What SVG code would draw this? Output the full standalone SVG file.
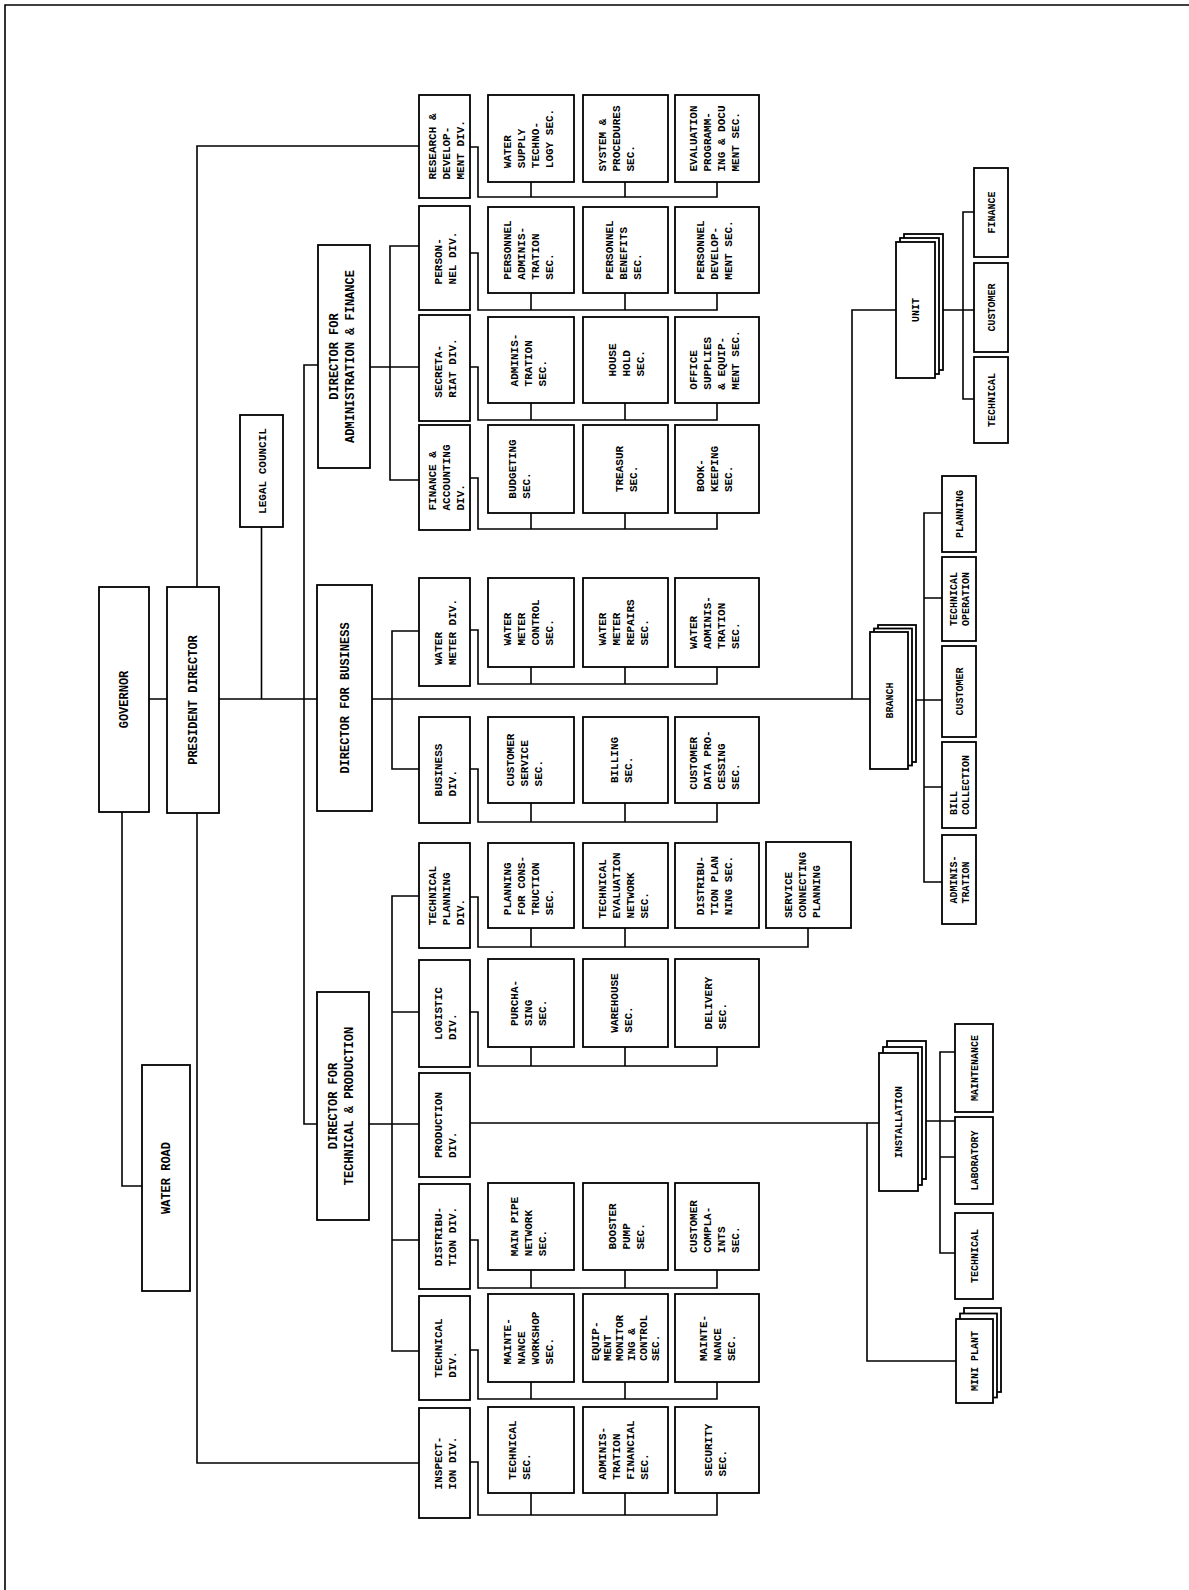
<svg xmlns="http://www.w3.org/2000/svg" width="1189" height="1590" viewBox="0 0 1189 1590">
<style>
.b{fill:#fff;stroke:#000;stroke-width:1.8}
.c{fill:none;stroke:#000;stroke-width:1.6}
.t{font-family:"Liberation Mono","DejaVu Sans Mono",monospace;font-weight:bold;font-size:11px;fill:#000}
.d{font-size:12px}
.s{font-size:10px}
.m{text-anchor:middle}
</style>
<rect x="0" y="0" width="1189" height="1590" fill="#fff"/>
<path class="c" d="M5,1590 V5 H1189" stroke-width="2.2"/>
<g id="connectors">
<path class="c" d="M149,699 H167 M219,699 H317 M372,699 H870"/>
<path class="c" d="M197,587 V146 H419 M197,813 V1463 H419 M122,812 V1186 H142 M261.5,527 V699"/>
<path class="c" d="M318,365 H304 V1124 H317"/>
<path class="c" d="M419,246 H390 V480 H419 M370,367 H419"/>
<path class="c" d="M419,631 H392 V769 H419"/>
<path class="c" d="M419,896 H392 V1351 H419 M369,1124 H419 M392,1012 H419 M392,1240 H419"/>
<path class="c" d="M470,147 H478 V197 H717 V182 M531,182 V197 M625,182 V197"/>
<path class="c" d="M470,253 H478 V310 H717 V293 M531,293 V310 M625,293 V310"/>
<path class="c" d="M470,367 H478 V420 H717 V403 M531,403 V420 M625,403 V420"/>
<path class="c" d="M470,478 H478 V529 H717 V513 M531,513 V529 M625,513 V529"/>
<path class="c" d="M470,630 H478 V684 H717 V667 M531,667 V684 M625,667 V684"/>
<path class="c" d="M470,769 H478 V822 H717 V803 M531,803 V822 M625,803 V822"/>
<path class="c" d="M470,897 H478 V947 H808 V928 M531,928 V947 M625,928 V947"/>
<path class="c" d="M470,1012 H478 V1066 H717 V1047 M531,1047 V1066 M625,1047 V1066"/>
<path class="c" d="M470,1240 H478 V1288 H717 V1270 M531,1270 V1288 M625,1270 V1288"/>
<path class="c" d="M470,1350 H478 V1399 H717 V1382 M531,1382 V1399 M625,1382 V1399"/>
<path class="c" d="M470,1462 H478 V1515 H717 V1493 M531,1493 V1515 M625,1493 V1515"/>
<path class="c" d="M470,1123 H879 M867,1123 V1361 H956"/>
<path class="c" d="M918,1121 H955 M955,1052 H940 V1253 H955 M940,1157 H955"/>
<path class="c" d="M908,700 H942 M942,513 H924 V882 H942 M924,598 H942 M924,787 H942"/>
<path class="c" d="M852,699 V310 H896 M935,310 H974 M974,212 H963 V399 H974"/>
</g>
<g id="governor"><rect class="b" x="99" y="587" width="50" height="225"/><text class="t d m" transform="translate(124 699.5) rotate(-90)" x="0" y="4">GOVERNOR</text></g>
<g id="president"><rect class="b" x="167" y="587" width="52" height="226"/><text class="t d m" transform="translate(193 700) rotate(-90)" x="0" y="4">PRESIDENT DIRECTOR</text></g>
<g id="water-board"><rect class="b" x="142" y="1065" width="48" height="226"/><text class="t d m" transform="translate(166 1178) rotate(-90)" x="0" y="4">WATER ROAD</text></g>
<g id="legal"><rect class="b" x="240" y="415" width="43" height="112"/><text class="t m" transform="translate(261.5 471) rotate(-90)" x="0" y="4">LEGAL COUNCIL</text></g>
<g id="dir-admin"><rect class="b" x="318" y="245" width="52" height="223"/><text class="t d m" transform="translate(344 356.5) rotate(-90)"><tspan x="0" y="-6">DIRECTOR FOR</tspan><tspan x="0" y="10">ADMINISTRATION &amp; FINANCE</tspan></text></g>
<g id="dir-business"><rect class="b" x="317" y="585" width="55" height="226"/><text class="t d m" transform="translate(344.5 698) rotate(-90)" x="0" y="4">DIRECTOR FOR BUSINESS</text></g>
<g id="dir-tech"><rect class="b" x="317" y="992" width="52" height="228"/><text class="t d m" transform="translate(343 1106) rotate(-90)"><tspan x="0" y="-6">DIRECTOR FOR</tspan><tspan x="0" y="10">TECHNICAL &amp; PRODUCTION</tspan></text></g>

<g id="div-rd"><rect class="b" x="419" y="95" width="51" height="103"/><text class="t" transform="translate(444.5 146.5) rotate(-90)"><tspan x="-33" y="-9">RESEARCH &amp;</tspan><tspan x="-33" y="5">DEVELOP-</tspan><tspan x="-33" y="19">MENT DIV.</tspan></text></g>
<g id="div-personnel"><rect class="b" x="419" y="206" width="51" height="104"/><text class="t" transform="translate(444.5 258) rotate(-90)"><tspan x="-26.4" y="-3">PERSON-</tspan><tspan x="-26.4" y="11">NEL DIV.</tspan></text></g>
<g id="div-secretariat"><rect class="b" x="419" y="315" width="51" height="106"/><text class="t" transform="translate(444.5 368) rotate(-90)"><tspan x="-29.7" y="-3">SECRETA-</tspan><tspan x="-29.7" y="11">RIAT DIV.</tspan></text></g>
<g id="div-finance"><rect class="b" x="419" y="425" width="51" height="105"/><text class="t" transform="translate(444.5 477.5) rotate(-90)"><tspan x="-33" y="-9">FINANCE &amp;</tspan><tspan x="-33" y="5">ACCOUNTING</tspan><tspan x="-33" y="19">DIV.</tspan></text></g>
<g id="div-watermeter"><rect class="b" x="419" y="578" width="51" height="108"/><text class="t" transform="translate(444.5 632) rotate(-90)"><tspan x="-33" y="-3">WATER</tspan><tspan x="-33" y="11">METER DIV.</tspan></text></g>
<g id="div-business"><rect class="b" x="419" y="717" width="51" height="106"/><text class="t" transform="translate(444.5 770) rotate(-90)"><tspan x="-26.4" y="-3">BUSINESS</tspan><tspan x="-26.4" y="11">DIV.</tspan></text></g>
<g id="div-techplanning"><rect class="b" x="419" y="843" width="51" height="105"/><text class="t" transform="translate(444.5 895.5) rotate(-90)"><tspan x="-29.7" y="-9">TECHNICAL</tspan><tspan x="-29.7" y="5">PLANNING</tspan><tspan x="-29.7" y="19">DIV.</tspan></text></g>
<g id="div-logistic"><rect class="b" x="419" y="960" width="51" height="107"/><text class="t" transform="translate(444.5 1013.5) rotate(-90)"><tspan x="-26.4" y="-3">LOGISTIC</tspan><tspan x="-26.4" y="11">DIV.</tspan></text></g>
<g id="div-production"><rect class="b" x="419" y="1073" width="51" height="104"/><text class="t" transform="translate(444.5 1125) rotate(-90)"><tspan x="-33" y="-3">PRODUCTION</tspan><tspan x="-33" y="11">DIV.</tspan></text></g>
<g id="div-distribution"><rect class="b" x="419" y="1184" width="51" height="105"/><text class="t" transform="translate(444.5 1236.5) rotate(-90)"><tspan x="-29.7" y="-3">DISTRIBU-</tspan><tspan x="-29.7" y="11">TION DIV.</tspan></text></g>
<g id="div-technical"><rect class="b" x="419" y="1296" width="51" height="104"/><text class="t" transform="translate(444.5 1348) rotate(-90)"><tspan x="-29.7" y="-3">TECHNICAL</tspan><tspan x="-29.7" y="11">DIV.</tspan></text></g>
<g id="div-inspection"><rect class="b" x="419" y="1408" width="51" height="110"/><text class="t" transform="translate(444.5 1463) rotate(-90)"><tspan x="-26.4" y="-3">INSPECT-</tspan><tspan x="-26.4" y="11">ION DIV.</tspan></text></g>

<g id="sec-water-supply"><rect class="b" x="488" y="95" width="86" height="87"/><text class="t" transform="translate(531 138.5) rotate(-90)"><tspan x="-29.7" y="-20">WATER</tspan><tspan x="-29.7" y="-6">SUPPLY</tspan><tspan x="-29.7" y="8">TECHNO-</tspan><tspan x="-29.7" y="22">LOGY SEC.</tspan></text></g>
<g id="sec-system"><rect class="b" x="583" y="95" width="85" height="87"/><text class="t" transform="translate(625.5 138.5) rotate(-90)"><tspan x="-33" y="-20">SYSTEM &amp;</tspan><tspan x="-33" y="-6">PROCEDURES</tspan><tspan x="-33" y="8">SEC.</tspan></text></g>
<g id="sec-evaluation"><rect class="b" x="675" y="95" width="84" height="87"/><text class="t" transform="translate(717 138.5) rotate(-90)"><tspan x="-33" y="-20">EVALUATION</tspan><tspan x="-33" y="-6">PROGRAMM-</tspan><tspan x="-33" y="8">ING &amp; DOCU</tspan><tspan x="-33" y="22">MENT SEC.</tspan></text></g>

<g id="sec-pers-admin"><rect class="b" x="488" y="207" width="86" height="86"/><text class="t" transform="translate(531 250) rotate(-90)"><tspan x="-29.7" y="-20">PERSONNEL</tspan><tspan x="-29.7" y="-6">ADMINIS-</tspan><tspan x="-29.7" y="8">TRATION</tspan><tspan x="-29.7" y="22">SEC.</tspan></text></g>
<g id="sec-pers-benefits"><rect class="b" x="583" y="207" width="85" height="86"/><text class="t" transform="translate(625.5 250) rotate(-90)"><tspan x="-29.7" y="-13">PERSONNEL</tspan><tspan x="-29.7" y="1">BENEFITS</tspan><tspan x="-29.7" y="15">SEC.</tspan></text></g>
<g id="sec-pers-dev"><rect class="b" x="675" y="207" width="84" height="86"/><text class="t" transform="translate(717 250) rotate(-90)"><tspan x="-29.7" y="-13">PERSONNEL</tspan><tspan x="-29.7" y="1">DEVELOP-</tspan><tspan x="-29.7" y="15">MENT SEC.</tspan></text></g>

<g id="sec-admin"><rect class="b" x="488" y="317" width="86" height="86"/><text class="t" transform="translate(531 360) rotate(-90)"><tspan x="-26.4" y="-13">ADMINIS-</tspan><tspan x="-26.4" y="1">TRATION</tspan><tspan x="-26.4" y="15">SEC.</tspan></text></g>
<g id="sec-household"><rect class="b" x="583" y="317" width="85" height="86"/><text class="t" transform="translate(625.5 360) rotate(-90)"><tspan x="-16.5" y="-10">HOUSE</tspan><tspan x="-16.5" y="4">HOLD</tspan><tspan x="-16.5" y="18">SEC.</tspan></text></g>
<g id="sec-office"><rect class="b" x="675" y="317" width="84" height="86"/><text class="t" transform="translate(717 360) rotate(-90)"><tspan x="-29.7" y="-20">OFFICE</tspan><tspan x="-29.7" y="-6">SUPPLIES</tspan><tspan x="-29.7" y="8">&amp; EQUIP-</tspan><tspan x="-29.7" y="22">MENT SEC.</tspan></text></g>

<g id="sec-budgeting"><rect class="b" x="488" y="425" width="86" height="88"/><text class="t" transform="translate(531 469) rotate(-90)"><tspan x="-29.7" y="-15">BUDGETING</tspan><tspan x="-29.7" y="-1">SEC.</tspan></text></g>
<g id="sec-treasury"><rect class="b" x="583" y="425" width="85" height="88"/><text class="t" transform="translate(625.5 469) rotate(-90)"><tspan x="-23.1" y="-3">TREASUR</tspan><tspan x="-23.1" y="11">SEC.</tspan></text></g>
<g id="sec-bookkeeping"><rect class="b" x="675" y="425" width="84" height="88"/><text class="t" transform="translate(717 469) rotate(-90)"><tspan x="-23.1" y="-13">BOOK-</tspan><tspan x="-23.1" y="1">KEEPING</tspan><tspan x="-23.1" y="15">SEC.</tspan></text></g>

<g id="sec-wm-control"><rect class="b" x="488" y="578" width="86" height="89"/><text class="t" transform="translate(531 622.5) rotate(-90)"><tspan x="-23.1" y="-20">WATER</tspan><tspan x="-23.1" y="-6">METER</tspan><tspan x="-23.1" y="8">CONTROL</tspan><tspan x="-23.1" y="22">SEC.</tspan></text></g>
<g id="sec-wm-repairs"><rect class="b" x="583" y="578" width="85" height="89"/><text class="t" transform="translate(625.5 622.5) rotate(-90)"><tspan x="-23.1" y="-20">WATER</tspan><tspan x="-23.1" y="-6">METER</tspan><tspan x="-23.1" y="8">REPAIRS</tspan><tspan x="-23.1" y="22">SEC.</tspan></text></g>
<g id="sec-wm-admin"><rect class="b" x="675" y="578" width="84" height="89"/><text class="t" transform="translate(717 622.5) rotate(-90)"><tspan x="-26.4" y="-20">WATER</tspan><tspan x="-26.4" y="-6">ADMINIS-</tspan><tspan x="-26.4" y="8">TRATION</tspan><tspan x="-26.4" y="22">SEC.</tspan></text></g>

<g id="sec-cust-service"><rect class="b" x="488" y="717" width="86" height="86"/><text class="t" transform="translate(531 760) rotate(-90)"><tspan x="-26.4" y="-17">CUSTOMER</tspan><tspan x="-26.4" y="-3">SERVICE</tspan><tspan x="-26.4" y="11">SEC.</tspan></text></g>
<g id="sec-billing"><rect class="b" x="583" y="717" width="85" height="86"/><text class="t" transform="translate(625.5 760) rotate(-90)"><tspan x="-23.1" y="-8">BILLING</tspan><tspan x="-23.1" y="6">SEC.</tspan></text></g>
<g id="sec-cust-data"><rect class="b" x="675" y="717" width="84" height="86"/><text class="t" transform="translate(717 760) rotate(-90)"><tspan x="-29.7" y="-20">CUSTOMER</tspan><tspan x="-29.7" y="-6">DATA PRO-</tspan><tspan x="-29.7" y="8">CESSING</tspan><tspan x="-29.7" y="22">SEC.</tspan></text></g>

<g id="sec-planning-cons"><rect class="b" x="488" y="843" width="86" height="85"/><text class="t" transform="translate(531 885.5) rotate(-90)"><tspan x="-29.7" y="-20">PLANNING</tspan><tspan x="-29.7" y="-6">FOR CONS-</tspan><tspan x="-29.7" y="8">TRUCTION</tspan><tspan x="-29.7" y="22">SEC.</tspan></text></g>
<g id="sec-tech-eval"><rect class="b" x="583" y="843" width="85" height="85"/><text class="t" transform="translate(625.5 885.5) rotate(-90)"><tspan x="-33" y="-20">TECHNICAL</tspan><tspan x="-33" y="-6">EVALUATION</tspan><tspan x="-33" y="8">NETWORK</tspan><tspan x="-33" y="22">SEC.</tspan></text></g>
<g id="sec-dist-planning"><rect class="b" x="675" y="843" width="84" height="85"/><text class="t" transform="translate(717 885.5) rotate(-90)"><tspan x="-29.7" y="-13">DISTRIBU-</tspan><tspan x="-29.7" y="1">TION PLAN</tspan><tspan x="-29.7" y="15">NING SEC.</tspan></text></g>
<g id="sec-service-conn"><rect class="b" x="766" y="842" width="85" height="86"/><text class="t" transform="translate(808.5 885) rotate(-90)"><tspan x="-33" y="-17">SERVICE</tspan><tspan x="-33" y="-3">CONNECTING</tspan><tspan x="-33" y="11">PLANNING</tspan></text></g>

<g id="sec-purchasing"><rect class="b" x="488" y="959" width="86" height="88"/><text class="t" transform="translate(531 1003) rotate(-90)"><tspan x="-23.1" y="-13">PURCHA-</tspan><tspan x="-23.1" y="1">SING</tspan><tspan x="-23.1" y="15">SEC.</tspan></text></g>
<g id="sec-warehouse"><rect class="b" x="583" y="959" width="85" height="88"/><text class="t" transform="translate(625.5 1003) rotate(-90)"><tspan x="-29.7" y="-8">WAREHOUSE</tspan><tspan x="-29.7" y="6">SEC.</tspan></text></g>
<g id="sec-delivery"><rect class="b" x="675" y="959" width="84" height="88"/><text class="t" transform="translate(717 1003) rotate(-90)"><tspan x="-26.4" y="-5">DELIVERY</tspan><tspan x="-26.4" y="9">SEC.</tspan></text></g>

<g id="sec-main-pipe"><rect class="b" x="488" y="1183" width="86" height="87"/><text class="t" transform="translate(531 1226.5) rotate(-90)"><tspan x="-29.7" y="-13">MAIN PIPE</tspan><tspan x="-29.7" y="1">NETWORK</tspan><tspan x="-29.7" y="15">SEC.</tspan></text></g>
<g id="sec-booster"><rect class="b" x="583" y="1183" width="85" height="87"/><text class="t" transform="translate(625.5 1226.5) rotate(-90)"><tspan x="-23.1" y="-10">BOOSTER</tspan><tspan x="-23.1" y="4">PUMP</tspan><tspan x="-23.1" y="18">SEC.</tspan></text></g>
<g id="sec-complaints"><rect class="b" x="675" y="1183" width="84" height="87"/><text class="t" transform="translate(717 1226.5) rotate(-90)"><tspan x="-26.4" y="-20">CUSTOMER</tspan><tspan x="-26.4" y="-6">COMPLA-</tspan><tspan x="-26.4" y="8">INTS</tspan><tspan x="-26.4" y="22">SEC.</tspan></text></g>

<g id="sec-workshop"><rect class="b" x="488" y="1294" width="86" height="88"/><text class="t" transform="translate(531 1338) rotate(-90)"><tspan x="-26.4" y="-20">MAINTE-</tspan><tspan x="-26.4" y="-6">NANCE</tspan><tspan x="-26.4" y="8">WORKSHOP</tspan><tspan x="-26.4" y="22">SEC.</tspan></text></g>
<g id="sec-monitoring"><rect class="b" x="583" y="1294" width="85" height="88"/><text class="t" transform="translate(625.5 1338) rotate(-90)"><tspan x="-23.1" y="-27">EQUIP-</tspan><tspan x="-23.1" y="-15">MENT</tspan><tspan x="-23.1" y="-3">MONITOR</tspan><tspan x="-23.1" y="9">ING &amp;</tspan><tspan x="-23.1" y="21">CONTROL</tspan><tspan x="-23.1" y="33">SEC.</tspan></text></g>
<g id="sec-maintenance"><rect class="b" x="675" y="1294" width="84" height="88"/><text class="t" transform="translate(717 1338) rotate(-90)"><tspan x="-23.1" y="-10">MAINTE-</tspan><tspan x="-23.1" y="4">NANCE</tspan><tspan x="-23.1" y="18">SEC.</tspan></text></g>

<g id="sec-insp-tech"><rect class="b" x="488" y="1407" width="86" height="86"/><text class="t" transform="translate(531 1450) rotate(-90)"><tspan x="-29.7" y="-15">TECHNICAL</tspan><tspan x="-29.7" y="-1">SEC.</tspan></text></g>
<g id="sec-insp-admin"><rect class="b" x="583" y="1407" width="85" height="86"/><text class="t" transform="translate(625.5 1450) rotate(-90)"><tspan x="-29.7" y="-20">ADMINIS-</tspan><tspan x="-29.7" y="-6">TRATION</tspan><tspan x="-29.7" y="8">FINANCIAL</tspan><tspan x="-29.7" y="22">SEC.</tspan></text></g>
<g id="sec-security"><rect class="b" x="675" y="1407" width="84" height="86"/><text class="t" transform="translate(717 1450) rotate(-90)"><tspan x="-26.4" y="-5">SECURITY</tspan><tspan x="-26.4" y="9">SEC.</tspan></text></g>

<g id="branch"><rect class="b" x="878" y="625" width="38" height="137"/><rect class="b" x="874" y="628.5" width="38" height="137"/><rect class="b" x="870" y="632" width="38" height="137"/><text class="t s m" transform="translate(889 700.5) rotate(-90)" x="0" y="3.5">BRANCH</text></g>
<g id="br-planning"><rect class="b" x="942" y="476" width="34" height="76"/><text class="t s m" transform="translate(959 514) rotate(-90)" x="0" y="3.5">PLANNING</text></g>
<g id="br-techop"><rect class="b" x="942" y="557" width="34" height="84"/><text class="t s" transform="translate(959 599) rotate(-90)"><tspan x="-27" y="-2.5">TECHNICAL</tspan><tspan x="-27" y="9.5">OPERATION</tspan></text></g>
<g id="br-customer"><rect class="b" x="942" y="646" width="34" height="91"/><text class="t s m" transform="translate(959 691.5) rotate(-90)" x="0" y="3.5">CUSTOMER</text></g>
<g id="br-bill"><rect class="b" x="942" y="742" width="34" height="86"/><text class="t s" transform="translate(959 785) rotate(-90)"><tspan x="-30" y="-2.5">BILL</tspan><tspan x="-30" y="9.5">COLLECTION</tspan></text></g>
<g id="br-admin"><rect class="b" x="942" y="835" width="34" height="89"/><text class="t s" transform="translate(959 879.5) rotate(-90)"><tspan x="-24" y="-2.5">ADMINIS-</tspan><tspan x="-24" y="9.5">TRATION</tspan></text></g>

<g id="unit"><rect class="b" x="904" y="234" width="39" height="136"/><rect class="b" x="900" y="238" width="39" height="136"/><rect class="b" x="896" y="242" width="39" height="136"/><text class="t s m" transform="translate(915.5 310) rotate(-90)" x="0" y="3.5">UNIT</text></g>
<g id="unit-finance"><rect class="b" x="974" y="168" width="34" height="89"/><text class="t s m" transform="translate(991 212.5) rotate(-90)" x="0" y="3.5">FINANCE</text></g>
<g id="unit-customer"><rect class="b" x="974" y="263" width="34" height="89"/><text class="t s m" transform="translate(991 307.5) rotate(-90)" x="0" y="3.5">CUSTOMER</text></g>
<g id="unit-technical"><rect class="b" x="974" y="357" width="34" height="86"/><text class="t s m" transform="translate(991 400) rotate(-90)" x="0" y="3.5">TECHNICAL</text></g>

<g id="installation"><rect class="b" x="887" y="1041" width="39" height="138"/><rect class="b" x="883" y="1047" width="39" height="138"/><rect class="b" x="879" y="1053" width="39" height="138"/><text class="t s m" transform="translate(898.5 1122) rotate(-90)" x="0" y="3.5">INSTALLATION</text></g>
<g id="inst-maintenance"><rect class="b" x="955" y="1024" width="38" height="88"/><text class="t s m" transform="translate(974 1068) rotate(-90)" x="0" y="3.5">MAINTENANCE</text></g>
<g id="inst-laboratory"><rect class="b" x="955" y="1117" width="38" height="87"/><text class="t s m" transform="translate(974 1160.5) rotate(-90)" x="0" y="3.5">LABORATORY</text></g>
<g id="inst-technical"><rect class="b" x="955" y="1213" width="38" height="86"/><text class="t s m" transform="translate(974 1256) rotate(-90)" x="0" y="3.5">TECHNICAL</text></g>
<g id="mini-plant"><rect class="b" x="964" y="1308" width="37" height="84"/><rect class="b" x="960" y="1313.5" width="37" height="84"/><rect class="b" x="956" y="1319" width="37" height="84"/><text class="t s m" transform="translate(974.5 1361) rotate(-90)" x="0" y="3.5">MINI PLANT</text></g>
</svg>
